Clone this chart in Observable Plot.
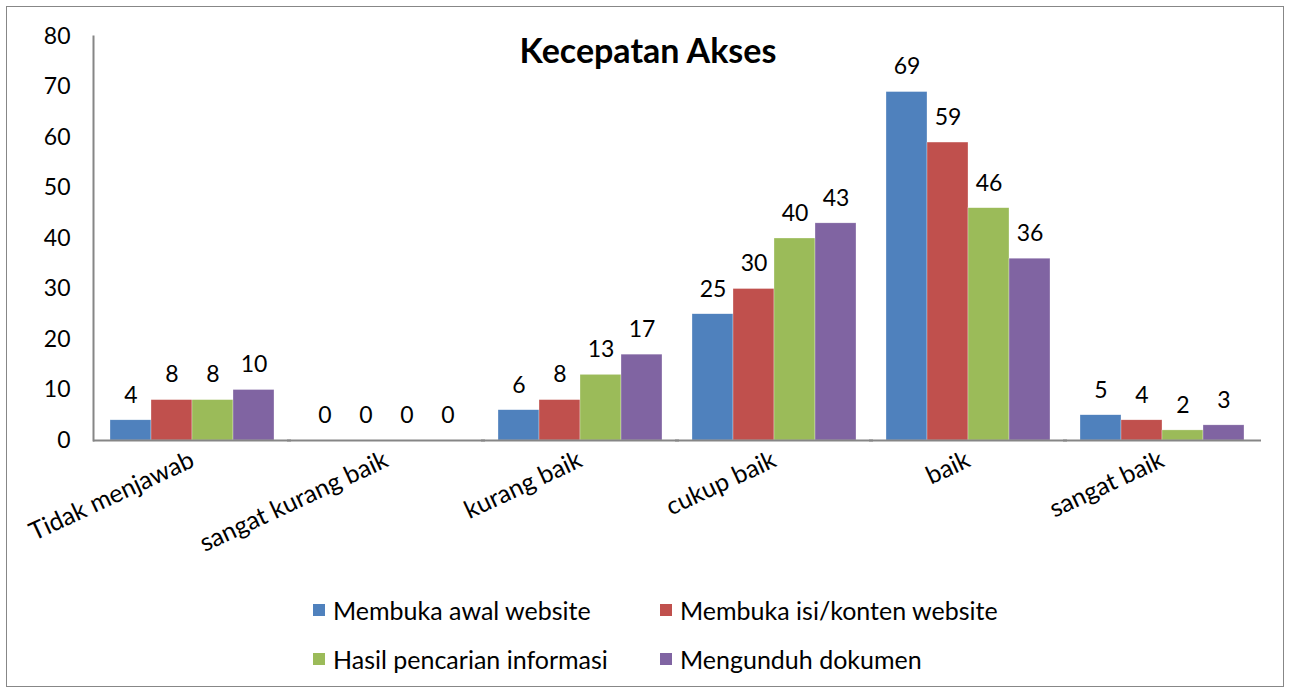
<!DOCTYPE html>
<html><head><meta charset="utf-8">
<script src="https://cdn.jsdelivr.net/npm/d3@7"></script>
<script src="https://cdn.jsdelivr.net/npm/@observablehq/plot@0.6"></script>
<style>
body{margin:0;background:#fff;font-family:Lato,"Open Sans",sans-serif;}
#wrap{position:relative;width:1289px;height:691px;overflow:hidden;background:#fff}
#border{position:absolute;left:6px;top:6px;width:1278px;height:681px;border:1px solid #878787;box-sizing:border-box}
#chart{position:absolute;left:0;top:0}
#title{position:absolute;left:0;width:1296px;top:29px;text-align:center;font-weight:bold;font-size:34px;color:#000}
#legend{position:absolute;left:313px;top:596px;display:grid;grid-template-columns:347px 347px;row-gap:22px;font-size:25px;color:#000}
#legend .it{display:flex;align-items:center;height:27px;white-space:nowrap}
#legend .sw{width:12px;height:12px;margin-right:8px;display:inline-block}
</style></head>
<body>
<div id="wrap"><div id="border"></div><div id="chart"></div><div id="title">Kecepatan Akses</div><div id="legend"></div></div>
<script>
const categories = ["Tidak menjawab","sangat kurang baik","kurang baik","cukup baik","baik","sangat baik"];
const series = ["Membuka awal website","Membuka isi/konten website","Hasil pencarian informasi","Mengunduh dokumen"];
const colors = ["#4F81BD","#C0504D","#9BBB59","#8064A2"];
const membukaAwal = [4,0,6,25,69,5];
const membukaIsi = [8,0,8,30,59,4];
const hasilPencarian = [8,0,13,40,46,2];
const mengunduh = [10,0,17,43,36,3];
const yTicks = [0,10,20,30,40,50,60,70,80];

const seriesValues = [membukaAwal, membukaIsi, hasilPencarian, mengunduh];
const data = [];
categories.forEach((c, i) => series.forEach((s, j) => data.push({category: c, series: s, value: seriesValues[j][i]})));

const font = "Lato, 'Open Sans', sans-serif";
const chart = Plot.plot({
  width: 1289, height: 580,
  marginLeft: 93, marginRight: 29, marginTop: 36, marginBottom: 140,
  style: {fontFamily: font, fontSize: "22px", color: "#000", background: "transparent"},
  fx: {domain: categories, paddingInner: 0.155, paddingOuter: 0.0775, label: null},
  x: {domain: series, padding: 0, axis: null},
  y: {domain: [0, 80], ticks: yTicks, label: null},
  color: {domain: series, range: colors},
  marks: [
    Plot.axisY({ticks: yTicks, tickSize: 0, tickPadding: 40, fontSize: 23, label: null}),
    Plot.axisFx({anchor: "bottom", tickSize: 0, tickRotate: -25, textAnchor: "end", tickPadding: 18, fontSize: 25, label: null}),
    Plot.barY(data, {fx: "category", x: "series", y: "value", fill: "series", stroke: "#fff", strokeWidth: 0.5, strokeOpacity: 0.6}),
    Plot.text(data, {fx: "category", x: "series", y: "value", text: d => String(d.value), dy: -25, fontSize: 23, fill: "#000"}),
    Plot.ruleY([0], {stroke: "#868686", strokeWidth: 2, insetLeft: -17, insetRight: -17}),
    Plot.frame({anchor: "left", stroke: "#868686", strokeWidth: 2, facet: "super", dx: -17})
  ]
});
document.getElementById("chart").append(chart);

const legend = document.getElementById("legend");
[0,1,2,3].forEach(j => {
  const it = document.createElement("div"); it.className = "it";
  const sw = document.createElement("span"); sw.className = "sw"; sw.style.background = colors[j];
  it.append(sw, document.createTextNode(series[j]));
  legend.append(it);
});
</script>
</body></html>
